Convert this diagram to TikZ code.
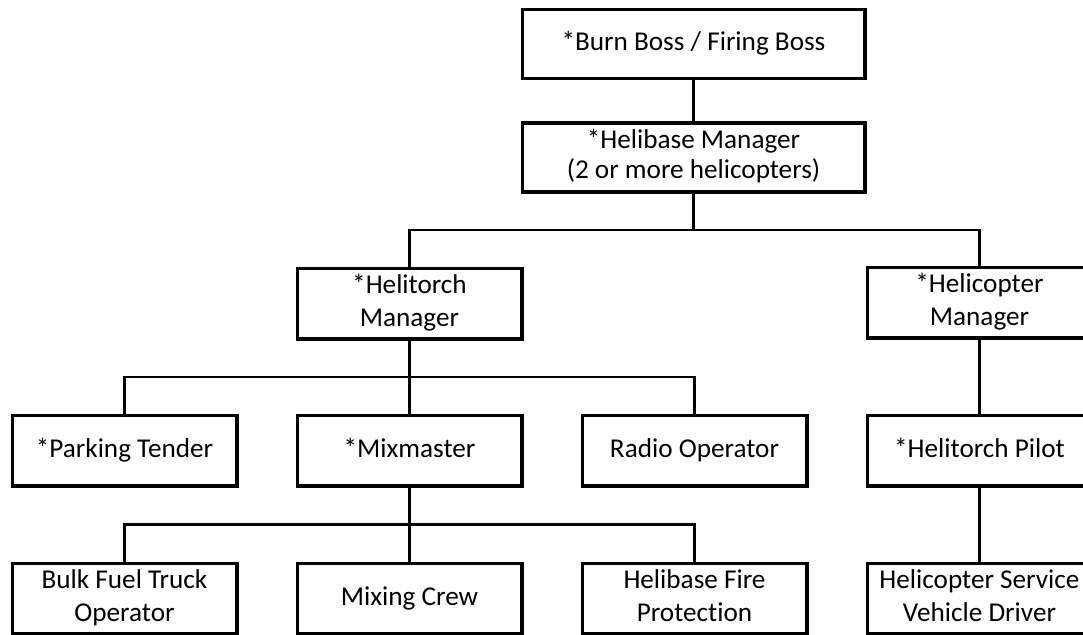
\documentclass[tikz,border=0pt]{standalone}
\usepackage{fontspec}
\setmainfont{Carlito}[Ligatures=NoCommon]
\usetikzlibrary{positioning,calc}

\begin{document}
\begin{tikzpicture}[
	x = 0.5pt, y = -0.5pt, % one unit per pixel of the chart
	font = \fontsize{13.6}{16.5}\selectfont,
	B/.style={rectangle, draw=black, line width=1.75pt, minimum width=112.25pt, minimum height=35.25pt, align=center, inner sep=1pt},  % post box
	W/.style={B, minimum width=171.25pt, minimum height=34.5pt},  % wide box
	link/.style={draw=black, line width=1.15pt},
	]

	\useasboundingbox (0,0) rectangle (1083,634);
	\clip (0,0) rectangle (1083,634);

	% Nodes and their relative positions
	\node[W, font=\fontsize{13.6}{15}\selectfont] (hb) at (693.5,157.5) {\strut*Helibase Manager\\(2 or more helicopters)\strut};
	\node[W] (boss) [above = 20.5pt of hb] {\strut*Burn Boss / Firing Boss};
	\node[B] (htm)  at (409.5,303.5) {\strut*Helitorch\\Manager\strut};
	\node[B] (mix)  [below = 36.5pt of htm] {\strut*Mixmaster};
	\node[B] (park) [left  = 28.5pt of mix] {\strut*Parking Tender};
	\node[B] (radio)[right = 28.5pt of mix] {\strut Radio Operator};
	\node[B] (pilot)[right = 28.5pt of radio] {\strut*Helitorch Pilot};
	\node[B] (hm)   [above = 37pt of pilot] {\strut*Helicopter\\Manager\strut};
	\node[B] (crew) [below = 37pt of mix] {\strut Mixing Crew};
	\node[B] (bulk) [left  = 28.5pt of crew] {\strut Bulk Fuel Truck\\Operator\strut};
	\node[B] (fire) [right = 28.5pt of crew] {\strut Helibase Fire\\Protection\strut};
	\node[B] (serv) [right = 28.5pt of fire] {\strut Helicopter Service\\Vehicle Driver\strut};

	% bus lines between the rows
	\coordinate (bus1) at ($(hb.south)!.5!(hb.south |- htm.north)$);
	\coordinate (bus2) at ($(htm.south)!.5!(mix.north)$);
	\coordinate (bus3) at ($(mix.south)!.5!(crew.north)$);

	% Paths connecting nodes
	\path[link] (boss) -- (hb);
	\path[link] (hb.south) -- (bus1);
	\path[link] (htm.north) |- (bus1) -| (hm.north);
	\path[link] (htm) -- (mix);
	\path[link] (park.north) |- (bus2) -| (radio.north);
	\path[link] (mix) -- (crew);
	\path[link] (bulk.north) |- (bus3) -| (fire.north);
	\path[link] (hm) -- (pilot);
	\path[link] (pilot) -- (serv);

\end{tikzpicture}
\end{document}
